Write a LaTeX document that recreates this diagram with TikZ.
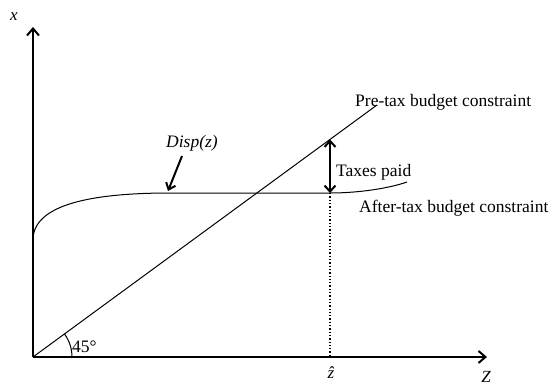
\documentclass[tikz,border=0pt]{standalone}
\usepackage{fontspec}
\setmainfont{Liberation Serif}
\usetikzlibrary{arrows.meta}
\begin{document}
\begin{tikzpicture}[x=1pt,y=-1pt,
  axis/.style={line width=2.2pt,-{Straight Barb[length=7pt,width=12pt,line width=2pt]}},
  thin/.style={line width=1pt},
  lbl/.style={font=\fontsize{17.5}{20}\selectfont, inner sep=0pt},
  bigarrow/.style={line width=2pt,{Straight Barb[length=6pt,width=11pt,line width=2pt]}-{Straight Barb[length=6pt,width=11pt,line width=2pt]}}]
\useasboundingbox (0,0) rectangle (557,385);
\coordinate (O) at (33,357);
\coordinate (ytop) at (33,27);
\coordinate (xend) at (487,357);
\coordinate (pretop) at (377,105);
\coordinate (zhatbase) at (330,357);
\coordinate (zhattop) at (330,193);
\coordinate (pretaxz) at (330,139.5);
\coordinate (astart) at (33,240);
\coordinate (aflat) at (170,193);
\coordinate (aend) at (407,182);
\draw[axis] (O) -- (ytop);
\draw[axis] (O) -- (xend);
\node[lbl, font=\fontsize{17}{20}\selectfont\itshape] (xl) at (14,17) {x};
\node[lbl, font=\fontsize{17}{20}\selectfont\itshape] (zl) at (486,377) {Z};
\node[lbl, font=\fontsize{17}{20}\selectfont\itshape] (zh) at (331,373) {\^{z}};
\draw[thin] (O) -- (pretop);
\node[lbl, anchor=west] (pre) at (355,102) {Pre-tax budget constraint};
\draw[thin] (astart) .. controls (33,205) and (90,193) .. (aflat) -- (zhattop) .. controls (360,193) and (390,188) .. (aend);
\node[lbl, anchor=west] (after) at (359,208) {After-tax budget constraint};
\draw[line width=1.3pt, dotted] (zhattop) -- (zhatbase);
\draw[bigarrow] (pretaxz) -- (zhattop);
\node[lbl, anchor=west] (taxes) at (336,172) {Taxes paid};
\node[lbl, font=\fontsize{17.5}{20}\selectfont\itshape] (disp) at (192,143) {Disp(z)};
\draw[line width=2pt,-{Straight Barb[length=6pt,width=10pt,line width=2pt]}] (182,156) -- (168,191);
\draw[thin] ([xshift=39pt]O) arc[start angle=0,end angle=-36.2,radius=39];
\node[lbl, anchor=west] (deg) at (72,347) {45°};
\end{tikzpicture}
\end{document}
